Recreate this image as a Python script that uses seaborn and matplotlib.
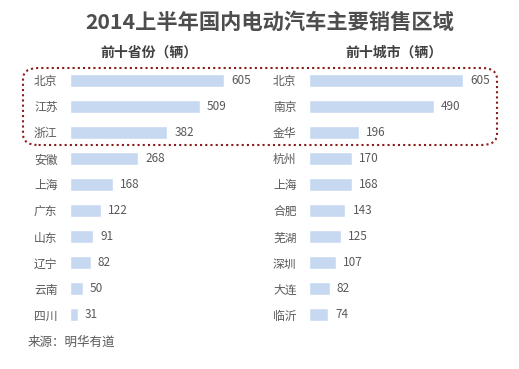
import matplotlib
matplotlib.use('Agg')
import matplotlib.pyplot as plt
import seaborn as sns
import pandas as pd
from matplotlib.patches import FancyBboxPatch

provinces = ['北京', '江苏', '浙江', '安徽', '上海', '广东', '山东', '辽宁', '云南', '四川']
province_sales = [605, 509, 382, 268, 168, 122, 91, 82, 50, 31]
cities = ['北京', '南京', '金华', '杭州', '上海', '合肥', '芜湖', '深圳', '大连', '临沂']
city_sales = [605, 490, 196, 170, 168, 143, 125, 107, 82, 74]

title = '2014上半年国内电动汽车主要销售区域'
left_title = '前十省份（辆）'
right_title = '前十城市（辆）'
source = '来源：明华有道'

sns.set_theme(style='white')
plt.rcParams['font.family'] = ['Noto Sans CJK SC', 'DejaVu Sans']

W, H = 519, 369
fig = plt.figure(figsize=(W / 100, H / 100), dpi=100)
fig.patch.set_facecolor('white')

bar_color = '#c6d9f0'
text_color = '#595959'

# axes in pixel coords: rows from y=67 to y=328
top_px, bot_px = 67, 328
ax_w = 180


def make_panel(x0, names, vals, head, head_x):
    ax = fig.add_axes([x0 / W, 1 - bot_px / H, ax_w / W, (bot_px - top_px) / H])
    df = pd.DataFrame({'name': names, 'val': vals})
    sns.barplot(data=df, x='val', y='name', color=bar_color, width=0.5,
                saturation=1, ax=ax, orient='h')
    ax.set_xlim(0, ax_w / 0.2545)
    ax.set_ylim(9.5, -0.5)
    for i, v in enumerate(vals):
        ax.text(v + 28, i, str(v), va='center', ha='left', fontsize=8.5, color=text_color)
    ax.set_xlabel('')
    ax.set_ylabel('')
    ax.set_xticks([])
    ax.tick_params(axis='y', length=0, pad=9, labelsize=8.5, labelcolor=text_color)
    for s in ax.spines.values():
        s.set_visible(False)
    ax.patch.set_alpha(0)
    fig.text(head_x / W, 1 - 53 / H, head, ha='center', va='center',
             fontsize=10, fontweight='bold', color='#404040')
    return ax


make_panel(70, provinces, province_sales, left_title, 149)
make_panel(309, cities, city_sales, right_title, 394)

fig.text(270 / W, 1 - 22 / H, title, ha='center', va='center', fontsize=15.3,
         fontweight='bold', color='#4d4d4d')
fig.text(28 / W, 1 - 342 / H, source, ha='left', va='center', fontsize=9,
         style='italic', color=text_color)

box = FancyBboxPatch((23 / W, 1 - 145 / H), (497 - 23) / W, (145 - 68) / H,
                     boxstyle='round,pad=0,rounding_size=0.03',
                     transform=fig.transFigure, fill=False,
                     edgecolor='#8b1a1a', linestyle=(0, (1, 1.5)), linewidth=1.5)
fig.add_artist(box)

fig.savefig('out.png', dpi=100, facecolor='white')
